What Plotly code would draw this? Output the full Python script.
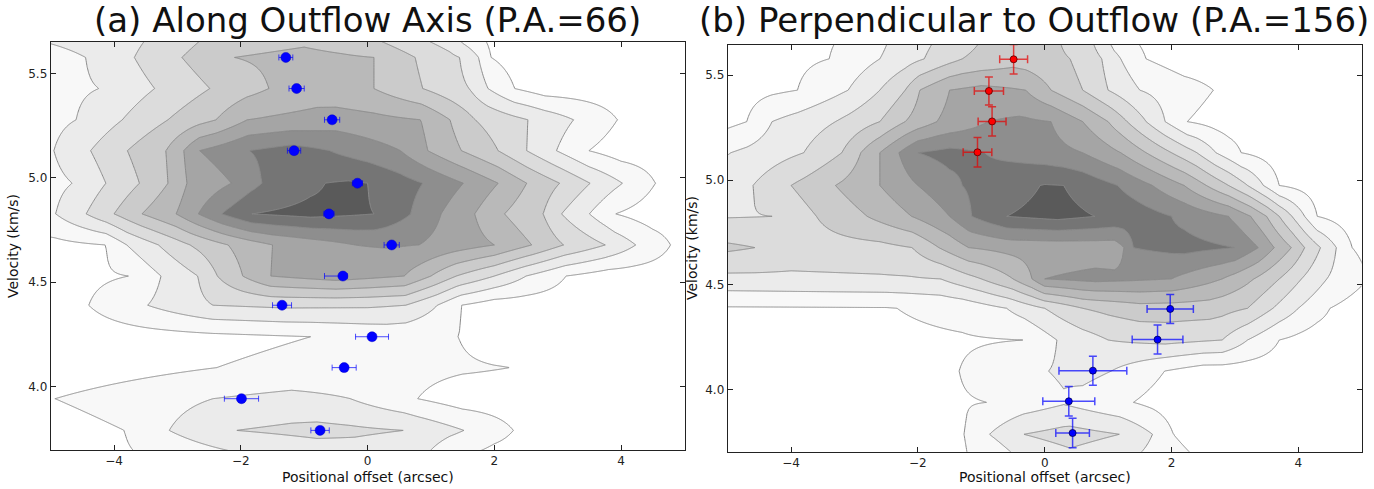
import numpy as np
import plotly.graph_objects as go

# ---------------- data ----------------
vel_channels = [3.641, 3.789, 3.941, 4.090, 4.238, 4.389, 4.529, 4.678,
                4.827, 4.974, 5.130, 5.278, 5.428, 5.577, 5.726]

# Panel (a): per channel, offsets (arcsec) where the intensity profile takes the given level
a_prof_x = [
    [-5.5, -3.37, -1.16, -0.2, 0.86, 1.3, 2.0],
    [-5.5, -3.84, -3.13, -2.07, -0.8, 0.57, 1.52, 2.30, 3.0],
    [-5.5, -4.93, -2.44, -1.2, -0.27, 0.79, 1.5],
    [-5.5, -2.38, 0.0, 2.24, 3.0],
    [-5.5, -0.9, 0.3, 1.43, 2.0],
    [-5.5, -4.4, -3.47, -2.44, -1.3, 0.0, 0.6, 1.1, 1.48, 2.0],
    [-5.5, -3.77, -3.26, -2.68, -2.37, -1.97, -1.53, -0.5, 0.58, 1.0, 1.4, 2.0, 2.5, 3.13, 3.8],
    [-5.5, -4.13, -3.8, -3.3, -2.8, -2.2, -1.5, -0.2, 0.3, 0.81, 2.0, 2.59, 3.09, 3.75, 4.23, 4.78, 5.3],
    [-5.5, -4.92, -4.44, -4.0, -3.56, -3.02, -2.67, -2.30, -1.83, -0.9, 0.10, 0.68, 1.16, 1.69, 2.16, 2.77, 3.06, 3.5, 3.91, 4.5],
    [-5.5, -4.66, -4.13, -3.6, -3.15, -2.85, -2.15, -1.67, -0.67, -0.3, 0.0, 0.87, 1.51, 2.06, 2.51, 3.03, 3.51, 4.02, 4.54, 5.0],
    [-5.5, -4.95, -4.37, -3.79, -3.18, -2.9, -2.65, -1.86, -1.2, -0.6, 0.52, 0.95, 1.48, 2.06, 2.51, 2.98, 3.49, 4.0],
    [-5.5, -4.6, -3.87, -3.15, -2.39, -1.9, -0.5, 0.84, 1.3, 1.7, 2.53, 3.25, 3.94, 4.5],
    [-5.5, -4.24, -3.36, -2.49, -1.56, -0.8, 0.1, 0.87, 1.6, 1.9, 2.32, 2.8],
    [-5.5, -4.45, -3.68, -2.93, -2.1, -1.0, 0.1, 0.75, 1.45, 1.75, 1.95, 2.4],
    [-5.5, -4.0, -3.3, -2.37, -1.0, -0.4, 0.4, 1.3, 1.5, 2.0],
]
a_prof_z = [
    [0.3, 1, 2, 2.4, 2, 1, 0.5],
    [0.3, 1, 2, 3, 3.3, 3, 2, 1, 0.5],
    [0.9, 1.0, 2, 2.3, 2, 1, 0.5],
    [0.2, 1, 1.4, 1, 0.5],
    [0.3, 1, 1.3, 1, 0.5],
    [0.5, 1, 2, 3, 3.2, 3.15, 3, 2, 1, 0.5],
    [0.5, 1, 2, 3, 4, 5, 6, 6.5, 6, 5, 4, 3, 2, 1, 0.5],
    [0.5, 1, 2, 3, 4, 5, 6, 7, 7.1, 7, 6, 5, 4, 3, 2, 1, 0.5],
    [1.5, 2, 3, 4, 5, 6, 7, 8, 9, 9.3, 9, 8, 7, 6, 5, 4, 3, 2, 1, 0.5],
    [1.3, 2, 3, 4, 5, 6, 7, 8, 9, 9.1, 9, 8, 7, 6, 5, 4, 3, 2, 1, 0.5],
    [1.5, 2, 3, 4, 5, 6, 7, 8, 8.4, 8, 7, 6, 5, 4, 3, 2, 1, 0.5],
    [1.4, 2, 3, 4, 5, 6, 6.5, 6, 5, 4, 3, 2, 1, 0.5],
    [1.5, 2, 3, 4, 5, 5.4, 5, 4, 3, 2, 1, 0.5],
    [1.6, 2, 3, 4, 5, 5.3, 5, 4, 3, 2, 1, 0.5],
    [2.2, 2.4, 3, 4, 4.4, 4, 3, 2, 1, 0.5],
]

# Panel (b)
b_prof_x = [
    [-5.5, -0.8, -0.3, 0.4, 1.2, 2.5, 3.0],
    [-5.5, -1.26, -0.87, -0.33, 0.4, 1.18, 1.7, 2.03, 2.6],
    [-5.5, -0.91, 0.3, 1.4, 2.0],
    [-5.5, -1.35, 0.06, 0.6, 1.05, 1.89, 2.5],
    [-5.5, -0.33, 0.19, 1.0, 1.9, 2.8, 3.2, 3.7, 4.3],
    [-5.5, -2.5, -1.3, -0.6, 0.0, 0.6, 1.5, 2.6, 3.2, 3.6, 4.0, 4.5, 5.0],
    [-5.5, -2.2, -1.64, -1.0, -0.5, -0.2, 0.0, 0.8, 2.0, 2.8, 3.3, 3.7, 4.05, 4.45, 5.1, 5.6],
    [-5.5, -4.57, -4.0, -2.6, -2.09, -1.67, -1.2, -0.5, 1.1, 1.25, 1.4, 2.2, 3.0, 3.37, 3.62, 3.89, 4.1, 4.35, 4.6, 4.85, 5.4],
    [-5.5, -4.3, -3.6, -2.8, -2.1, -1.5, -1.15, -0.7, -0.6, 0.2, 0.79, 1.4, 2.0, 2.9, 3.25, 3.5, 3.7, 3.9, 4.1, 4.3, 4.8],
    [-5.5, -4.6, -4.0, -3.3, -2.6, -2.0, -1.3, -0.5, 0.0, 0.3, 0.6, 1.15, 1.7, 2.2, 2.55, 2.9, 3.2, 3.45, 3.7, 4.3],
    [-5.5, -4.95, -3.8, -3.2, -2.9, -2.6, -2.3, -2.0, -1.5, -0.95, -0.3, 0.6, 1.2, 1.6, 2.0, 2.4, 2.7, 3.1, 3.7],
    [-5.5, -4.7, -4.3, -3.3, -2.6, -2.2, -1.7, -0.9, -0.4, 0.1, 0.6, 1.0, 1.3, 1.6, 1.9, 2.25, 2.9],
    [-5.5, -3.9, -3.1, -2.6, -2.2, -1.97, -1.5, -1.0, -0.3, 0.1, 0.6, 1.0, 1.5, 2.66, 3.2],
    [-5.5, -3.4, -2.6, -1.9, -1.3, -0.5, 0.4, 0.9, 1.2, 1.6, 2.2],
    [-5.5, -2.9, -2.4, -1.6, -0.9, -0.3, 0.2, 0.7, 0.95, 1.1, 1.7],
]
b_prof_z = [
    [0.3, 1, 2, 2.5, 2, 1, 0.5],
    [0.3, 1, 2, 3, 3.4, 3, 2, 1, 0.5],
    [0.3, 1, 1.9, 1, 0.5],
    [0.3, 1, 2, 2.3, 2, 1, 0.5],
    [0.5, 1, 2, 3, 3.3, 3, 2, 1, 0.5],
    [0.9, 0.95, 1.3, 2, 3, 4, 4.6, 4.5, 4, 3, 2, 1, 0.5],
    [2.7, 2.9, 3, 4, 5, 6, 7, 7.3, 7, 6, 5, 4, 3, 2, 1, 0.5],
    [4.4, 4, 3.6, 3.7, 4, 5, 6, 6.35, 6.45, 7, 8, 8.3, 8, 7, 6, 5, 4, 3, 2, 1, 0.5],
    [2.9, 3, 4, 5, 6, 7, 8, 8.8, 9, 9.3, 9, 8.6, 8, 7, 6, 5, 4, 3, 2, 1, 0.5],
    [2.4, 3, 4, 5, 6, 7, 8, 8.7, 9.05, 9.0, 8.7, 8, 7, 6, 5, 4, 3, 2, 1, 0.5],
    [1.4, 2, 3, 4, 5, 6, 7, 8, 8.3, 8, 7.6, 7, 6, 5, 4, 3, 2, 1, 0.5],
    [0.3, 1, 2, 3, 4, 5, 6, 7, 7.2, 7, 6, 5, 4, 3, 2, 1, 0.5],
    [0.3, 1, 2, 3, 4, 5, 6, 6.3, 6, 5, 4, 3, 2, 1, 0.5],
    [0.3, 1, 2, 3, 4, 4.6, 4, 3, 2, 1, 0.5],
    [0.3, 1, 2, 3, 4, 4.3, 4, 3, 2, 1, 0.5],
]

# centroid points, panel (a)
a_vel = [5.577, 5.428, 5.278, 5.130, 4.974, 4.827, 4.678, 4.529, 4.389, 4.238, 4.090, 3.941, 3.789]
a_off = [-1.29, -1.12, -0.56, -1.16, -0.16, -0.61, 0.38, -0.39, -1.35, 0.07, -0.37, -1.99, -0.75]
a_err_plus = [0.11, 0.12, 0.12, 0.105, 0.08, 0.08, 0.12, 0.07, 0.15, 0.26, 0.19, 0.27, 0.145]
a_err_minus = [0.11, 0.12, 0.12, 0.105, 0.08, 0.08, 0.12, 0.29, 0.15, 0.26, 0.19, 0.27, 0.145]

# centroid points, panel (b)
b_red_vel = [5.575, 5.424, 5.279, 5.132]
b_red_off = [-0.49, -0.88, -0.83, -1.06]
b_red_xerr = [0.22, 0.23, 0.22, 0.226]
b_red_yerr = [0.07, 0.067, 0.07, 0.07]
b_blue_vel = [4.386, 4.240, 4.092, 3.946, 3.795]
b_blue_off = [1.98, 1.78, 0.76, 0.38, 0.44]
b_blue_xerr = [0.365, 0.40, 0.535, 0.41, 0.265]
b_blue_yerr = [0.069, 0.069, 0.069, 0.07, 0.07]

fill_colors = ['#ffffff', '#f8f8f8', '#ebebeb', '#dcdcdc', '#cbcbcb',
               '#b9b9b9', '#a5a5a5', '#8e8e8e', '#757575', '#5a5a5a']

# ---------------- build figure ----------------
xgrid = np.linspace(-5.5, 5.5, 441)


def build_table(px, pz):
    return np.array([np.interp(xgrid, kx, kz) for kx, kz in zip(px, pz)])


za = build_table(a_prof_x, a_prof_z)
zb = build_table(b_prof_x, b_prof_z)
cscale = [[k / 9.0, c] for k, c in enumerate(fill_colors)]

fig = go.Figure()
for z, xa, ya in [(za, 'x', 'y'), (zb, 'x2', 'y2')]:
    fig.add_trace(go.Contour(
        x=xgrid, y=vel_channels, z=z, xaxis=xa, yaxis=ya,
        autocontour=False,
        contours=dict(start=1, end=9, size=1, coloring='fill', showlines=True),
        colorscale=cscale, showscale=False,
        line=dict(color='#8a8a8a', width=1, smoothing=0),
        hoverinfo='skip'))

fig.add_trace(go.Scatter(
    x=a_off, y=a_vel, mode='markers', xaxis='x', yaxis='y',
    marker=dict(color='#0000ff', size=10, line=dict(color='#0000cc', width=0.5)),
    error_x=dict(type='data', symmetric=False, array=a_err_plus, arrayminus=a_err_minus,
                 color='rgba(0,0,255,0.7)', thickness=1, width=3),
    showlegend=False))

fig.add_trace(go.Scatter(
    x=b_red_off, y=b_red_vel, mode='markers', xaxis='x2', yaxis='y2',
    marker=dict(color='#ff0000', size=7, line=dict(color='#550000', width=0.8)),
    error_x=dict(type='data', array=b_red_xerr, color='rgba(230,0,0,0.7)', thickness=1.5, width=4),
    error_y=dict(type='data', array=b_red_yerr, color='rgba(230,0,0,0.7)', thickness=1.5, width=4),
    showlegend=False))

fig.add_trace(go.Scatter(
    x=b_blue_off, y=b_blue_vel, mode='markers', xaxis='x2', yaxis='y2',
    marker=dict(color='#0000ff', size=7, line=dict(color='#000055', width=0.8)),
    error_x=dict(type='data', array=b_blue_xerr, color='rgba(0,0,255,0.7)', thickness=1.5, width=4),
    error_y=dict(type='data', array=b_blue_yerr, color='rgba(0,0,255,0.7)', thickness=1.5, width=4),
    showlegend=False))

W, H = 1374, 489
FONT = 'DejaVu Sans, Verdana, sans-serif'
axis_common = dict(showgrid=False, zeroline=False, showline=True, linecolor='#222222', linewidth=1,
                   mirror='ticks', ticks='inside', ticklen=5, tickcolor='#222222',
                   tickfont=dict(size=12, color='#222222', family=FONT))

fig.update_layout(
    width=W, height=H, margin=dict(l=0, r=0, t=0, b=0),
    paper_bgcolor='white', plot_bgcolor='white', showlegend=False,
    xaxis=dict(domain=[50.7 / W, 684.5 / W], range=[-5, 5], tickvals=[-4, -2, 0, 2, 4],
               anchor='y', **axis_common),
    yaxis=dict(domain=[1 - 450 / H, 1 - 42 / H], range=[3.695, 5.651],
               tickvals=[4.0, 4.5, 5.0, 5.5], tickformat='.1f', anchor='x', **axis_common),
    xaxis2=dict(domain=[727.7 / W, 1361.7 / W], range=[-5, 5], tickvals=[-4, -2, 0, 2, 4],
                anchor='y2', **axis_common),
    yaxis2=dict(domain=[1 - 451.7 / H, 1 - 45 / H], range=[3.706, 5.643],
                tickvals=[4.0, 4.5, 5.0, 5.5], tickformat='.1f', anchor='x2', **axis_common),
)

titles = [
    ('(a) Along Outflow Axis (P.A.=66)', 367.5),
    ('(b) Perpendicular to Outflow (P.A.=156)', 1034),
]
for txt, xc in titles:
    fig.add_annotation(text=txt, x=xc / W, y=1.0, xref='paper', yref='paper',
                       xanchor='center', yanchor='top', showarrow=False, yshift=2,
                       font=dict(size=34, color='#111111', family=FONT))
for xc in (367.5, 1044.7):
    fig.add_annotation(text='Positional offset (arcsec)', x=xc / W, y=1 - 477 / H,
                       xref='paper', yref='paper', xanchor='center', yanchor='middle',
                       showarrow=False, font=dict(size=14, color='#111111', family=FONT))
for xp, yc in [(13, 246), (692, 248)]:
    fig.add_annotation(text='Velocity (km/s)', x=xp / W, y=1 - yc / H, xref='paper', yref='paper',
                       xanchor='center', yanchor='middle', showarrow=False, textangle=-90,
                       font=dict(size=14, color='#111111', family=FONT))

fig.write_html('out.html')
